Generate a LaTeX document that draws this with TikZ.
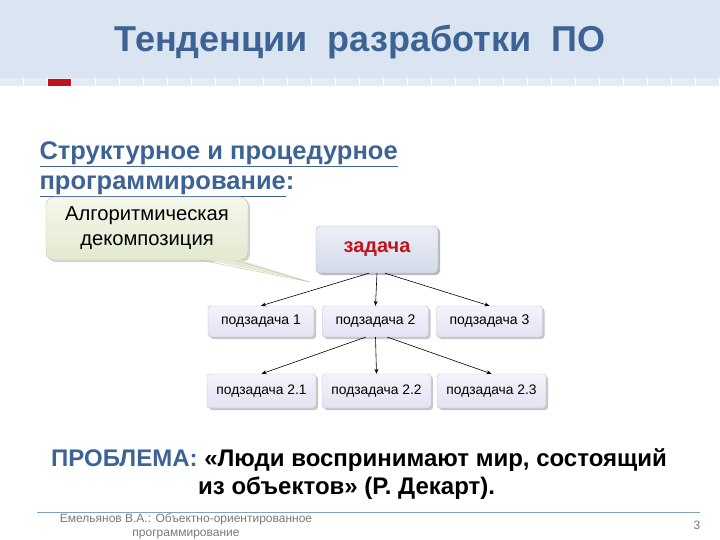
\documentclass[tikz,border=0pt]{standalone}
\usepackage{fontspec}
\setmainfont{Liberation Sans}
\usetikzlibrary{shadows,arrows.meta}
\definecolor{bandblue}{RGB}{219,229,241}
\definecolor{stripblue}{RGB}{228,235,245}
\definecolor{titleblue}{RGB}{60,99,148}
\definecolor{taskred}{RGB}{192,20,28}
\definecolor{footgray}{RGB}{120,120,120}
\definecolor{footline}{RGB}{130,160,192}
\definecolor{notefill}{RGB}{226,234,208}
\definecolor{noteline}{RGB}{190,200,170}
\tikzset{
  taskbox/.style={draw={rgb,255:red,170;green,178;blue,195}, rounded corners=4pt,
    top color={rgb,255:red,236;green,239;blue,247}, bottom color={rgb,255:red,211;green,218;blue,233},
    drop shadow={shadow xshift=2pt,shadow yshift=-2pt,fill=black!45,opacity=.6}},
  subbox/.style={draw={rgb,255:red,190;green,190;blue,210}, rounded corners=3pt,
    top color={rgb,255:red,244;green,244;blue,252}, bottom color={rgb,255:red,226;green,226;blue,242},
    drop shadow={shadow xshift=2pt,shadow yshift=-2pt,fill=black!40,opacity=.55}},
  calloutbox/.style={draw=noteline, rounded corners=8pt,
    top color={rgb,255:red,244;green,247;blue,234}, bottom color=notefill,
    drop shadow={shadow xshift=2pt,shadow yshift=-2pt,fill=black!35,opacity=.5}},
  link/.style={-{Stealth[length=5pt,width=4pt]}, semithick}
}
\begin{document}
\begin{tikzpicture}[x=1pt,y=-1pt]%
\useasboundingbox (0,0) rectangle (720,540);%
% header band
\fill[bandblue] (0,0) rectangle (720,78);%
\fill[stripblue] (0,78) rectangle (720,86);%
\foreach \i in {0,...,30} {\draw[white,line width=1pt] (\i*24-1,78) -- (\i*24-1,86);}%
\fill[taskred] (48,79) rectangle (71,86);%
\node[font=\fontsize{36}{40}\selectfont\bfseries,text=titleblue] (title) at (360,42) {Тенденции\ \ разработки\ \ ПО};%
% heading
\node[font=\fontsize{25.5}{30}\selectfont\bfseries,text=titleblue,align=left,anchor=north west] (head) at (36,138)
  {\underline{Структурное и процедурное}\\\underline{программирование}:};%
% tree
\node[taskbox,minimum width=122pt,minimum height=47pt,font=\fontsize{20}{22}\selectfont\bfseries,text=taskred] (task) at (377,249.5) {задача};%
\foreach \n/\x in {1/261,2/375.5,3/489.5} {%
  \node[subbox,minimum width=106pt,minimum height=31pt,font=\fontsize{14}{16}\selectfont] (sub\n) at (\x,321.5) {подзадача \n};%
}%
\foreach \n/\x in {1/261.5,2/376.5,3/491.5} {%
  \node[subbox,minimum width=109pt,minimum height=34pt,font=\fontsize{13.8}{15}\selectfont] (subb\n) at (\x,391) {подзадача 2.\n};%
}%
\draw[link] (task.south) ++(-8,0) -- (sub1.north);%
\draw[link] (task.south) -- (sub2.north);%
\draw[link] (task.south) ++(8,0) -- (sub3.north);%
\draw[link] (sub2.south) ++(-10,0) -- (subb1.north);%
\draw[link] (sub2.south) -- (subb2.north);%
\draw[link] (sub2.south) ++(12,0) -- (subb3.north);%
% callout
\node[calloutbox,minimum width=202pt,minimum height=63pt,align=center,font=\fontsize{20.2}{25}\selectfont] (note) at (147,228.5) {Алгоритмическая\\декомпозиция};%
\coordinate (tip) at (310,282);%
\fill[notefill] (200,258) -- (tip) -- (234,258) -- cycle;%
\draw[noteline] (200,260) -- (tip) -- (234,260);%
% problem
\node[font=\fontsize{24}{28}\selectfont\bfseries,align=left,anchor=west,inner sep=0pt] (problem) at (51,474)
  {\textcolor{titleblue}{ПРОБЛЕМА:} «Люди воспринимают мир, состоящий\\\hspace*{147pt}из объектов» (Р. Декарт).};%
% footer
\draw[footline,semithick] (37,512) -- (700,512);%
\node[font=\fontsize{12}{14}\selectfont,text=footgray,align=center] (foot) at (186,526) {Емельянов В.А.: Объектно-ориентированное\\программирование};%
\node[font=\fontsize{12}{14}\selectfont,text=footgray] (page) at (697,525) {3};%
\end{tikzpicture}
\end{document}
